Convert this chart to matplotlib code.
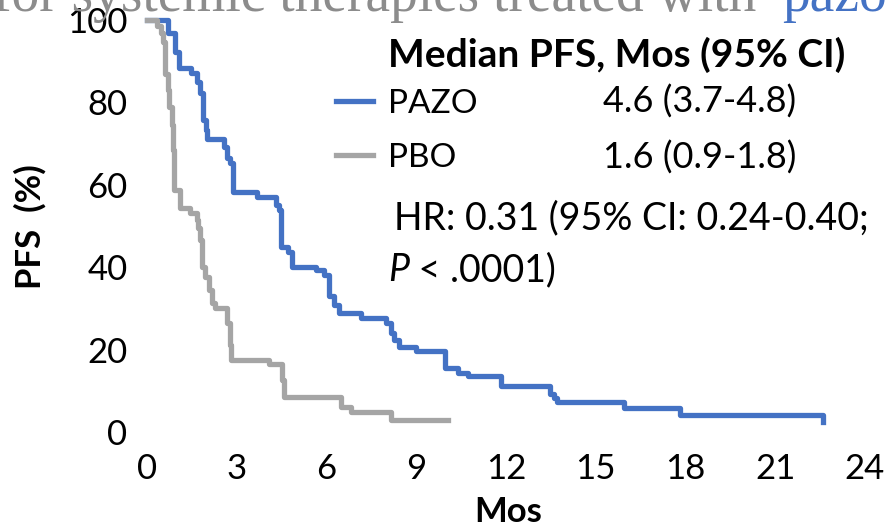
import matplotlib.pyplot as plt

plt.rcParams['font.family'] = ['Lato', 'DejaVu Sans']

# PFS curves (months, % progression-free)
pazo_t = [0, 0.70, 0.93, 1.06, 1.46, 1.66, 1.76, 1.86, 1.96, 1.99, 2.59, 2.66, 2.76,
          2.86, 3.69, 4.32, 4.40, 4.49, 4.72, 4.85, 5.65, 5.91, 6.08, 6.25, 6.41,
          7.14, 7.99, 8.14, 8.27, 8.41, 9.00, 9.97, 10.40, 10.73, 11.83, 13.46,
          13.60, 13.72, 15.95, 17.81, 22.60, 22.60]
pazo_s = [100, 96.8, 92.2, 88.3, 87.1, 84.9, 82.3, 75.7, 73.3, 71.1, 69.2, 66.5, 65.3,
          58.3, 57.0, 55.1, 53.9, 44.9, 43.7, 40.0, 39.3, 38.1, 33.0, 30.8, 28.9,
          27.7, 26.5, 24.0, 22.3, 20.6, 19.7, 15.5, 14.3, 13.6, 11.2, 9.2,
          8.3, 7.3, 5.8, 4.1, 4.1, 2.4]

pbo_t = [0, 0.33, 0.47, 0.53, 0.60, 0.70, 0.73, 0.83, 0.86, 0.90, 1.10, 1.43, 1.66,
         1.69, 1.76, 1.83, 1.93, 2.06, 2.16, 2.26, 2.66, 2.76, 2.82, 4.09, 4.52,
         4.58, 6.48, 6.81, 8.17, 10.07]
pbo_s = [100, 98.5, 96.8, 94.7, 87.0, 83.0, 78.9, 74.5, 68.4, 58.7, 54.4, 53.2, 51.5,
         49.5, 46.6, 40.0, 37.6, 34.5, 31.3, 30.1, 26.5, 21.0, 17.5, 16.5, 12.6,
         8.5, 6.1, 4.9, 2.9, 2.9]

x_ticks = [0, 3, 6, 9, 12, 15, 18, 21, 24]
y_ticks = [0, 20, 40, 60, 80, 100]

series = ['PAZO', 'PBO']
medians = ['4.6 (3.7-4.8)', '1.6 (0.9-1.8)']
colors = ['#4472C4', '#A5A5A5']

W, H = 887, 530
def fx(px):
    return px / W
def fy(py):
    return 1 - py / H

fig = plt.figure(figsize=(W / 100, H / 100), dpi=100)

# slide heading, cut off at the top edge
head = fig.text(fx(-7), fy(11), 'for systemic therapies treated with ',
                family='Liberation Serif', fontsize=40, color='#8c8c8c', va='baseline')
fig.text(fx(782), fy(11), 'pazopanib', family='Liberation Serif', fontsize=40,
         color='#4472C4', va='baseline')

ax = fig.add_axes([fx(147), fy(432), (865 - 147) / W, (432 - 20) / H])
l1, = ax.step(pazo_t, pazo_s, where='post', color=colors[0], lw=3.8, clip_on=False)
l2, = ax.step(pbo_t, pbo_s, where='post', color=colors[1], lw=3.8, clip_on=False)

ax.set_xlim(0, 24)
ax.set_ylim(0, 100)
ax.set_xticks(x_ticks)
ax.set_yticks(y_ticks)
ax.tick_params(length=0, labelsize=25, pad=14)
ax.tick_params(axis='x', pad=15)
for s in ax.spines.values():
    s.set_visible(False)

fig.text(fx(508), fy(512), 'Mos', fontsize=25, fontweight='bold', ha='center', va='center')
fig.text(fx(30), fy(227), 'PFS  (%)', fontsize=25, fontweight='bold', rotation=90,
         ha='center', va='center')

# legend block
fig.text(fx(388), fy(55), 'Median PFS, Mos (95% CI)', fontsize=28, fontweight='bold',
         va='center')
ax.legend([l1, l2], series, loc='upper left', bbox_to_anchor=(fx(336), fy(89)),
          bbox_transform=fig.transFigure, frameon=False, fontsize=24,
          handlelength=1.1, handletextpad=0.45, labelspacing=0.72, borderpad=0,
          borderaxespad=0)
for i, m in enumerate(medians):
    fig.text(fx(603), fy(102 + 56 * i), m, fontsize=26, va='center')

fig.text(fx(394), fy(218), 'HR: 0.31 (95% CI: 0.24-0.40;', fontsize=27, va='center')
pt = fig.text(fx(388), fy(270), 'P', fontsize=27, style='italic', va='center')
ax.annotate(' < .0001)', xy=(1, 0.5), xycoords=pt, fontsize=27, va='center')

fig.savefig('out.png', dpi=100)
